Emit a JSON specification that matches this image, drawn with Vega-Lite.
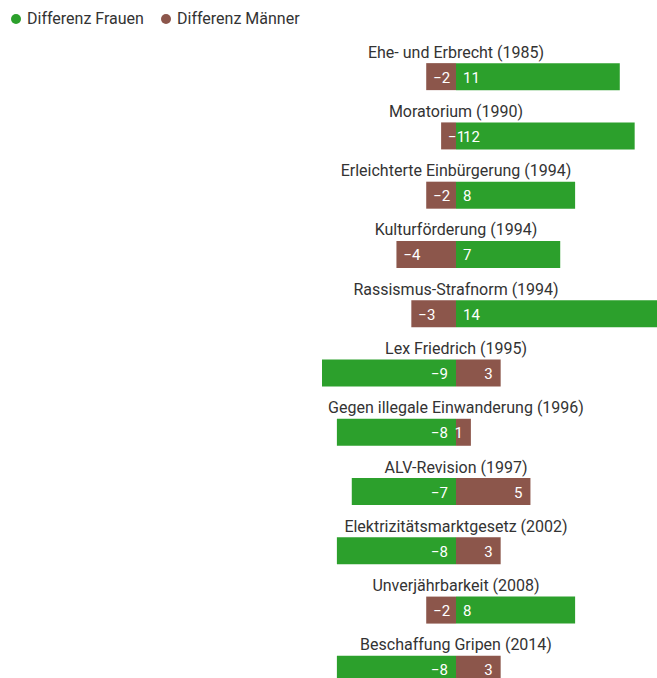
{
  "$schema": "https://vega.github.io/schema/vega-lite/v6.json",
  "width": 402,
  "height": 652,
  "autosize": "none",
  "padding": {"left": 255, "top": 47, "right": 0, "bottom": 0},
  "background": "white",
  "config": {
    "view": {"stroke": null},
    "font": "Roboto",
    "text": {"font": "Roboto"}
  },
  "data": {
    "values": [
      {"vote": "Ehe- und Erbrecht (1985)", "gender": "Differenz Frauen", "value": 11},
      {"vote": "Ehe- und Erbrecht (1985)", "gender": "Differenz Männer", "value": -2},
      {"vote": "Moratorium (1990)", "gender": "Differenz Frauen", "value": 12},
      {"vote": "Moratorium (1990)", "gender": "Differenz Männer", "value": -1},
      {"vote": "Erleichterte Einbürgerung (1994)", "gender": "Differenz Frauen", "value": 8},
      {"vote": "Erleichterte Einbürgerung (1994)", "gender": "Differenz Männer", "value": -2},
      {"vote": "Kulturförderung (1994)", "gender": "Differenz Frauen", "value": 7},
      {"vote": "Kulturförderung (1994)", "gender": "Differenz Männer", "value": -4},
      {"vote": "Rassismus-Strafnorm (1994)", "gender": "Differenz Frauen", "value": 14},
      {"vote": "Rassismus-Strafnorm (1994)", "gender": "Differenz Männer", "value": -3},
      {"vote": "Lex Friedrich (1995)", "gender": "Differenz Frauen", "value": -9},
      {"vote": "Lex Friedrich (1995)", "gender": "Differenz Männer", "value": 3},
      {"vote": "Gegen illegale Einwanderung (1996)", "gender": "Differenz Frauen", "value": -8},
      {"vote": "Gegen illegale Einwanderung (1996)", "gender": "Differenz Männer", "value": 1},
      {"vote": "ALV-Revision (1997)", "gender": "Differenz Frauen", "value": -7},
      {"vote": "ALV-Revision (1997)", "gender": "Differenz Männer", "value": 5},
      {"vote": "Elektrizitätsmarktgesetz (2002)", "gender": "Differenz Frauen", "value": -8},
      {"vote": "Elektrizitätsmarktgesetz (2002)", "gender": "Differenz Männer", "value": 3},
      {"vote": "Unverjährbarkeit (2008)", "gender": "Differenz Frauen", "value": 8},
      {"vote": "Unverjährbarkeit (2008)", "gender": "Differenz Männer", "value": -2},
      {"vote": "Beschaffung Gripen (2014)", "gender": "Differenz Frauen", "value": -8},
      {"vote": "Beschaffung Gripen (2014)", "gender": "Differenz Männer", "value": 3}
    ]
  },
  "encoding": {
    "y": {
      "field": "vote",
      "type": "nominal",
      "sort": null,
      "axis": null,
      "scale": {"paddingInner": 0, "paddingOuter": 0}
    }
  },
  "layer": [
    {
      "mark": {"type": "bar", "size": 27, "clip": true},
      "encoding": {
        "x": {
          "field": "value",
          "type": "quantitative",
          "stack": null,
          "axis": null,
          "scale": {"domain": [-13.5, 13.5], "nice": false, "zero": false}
        },
        "color": {
          "field": "gender",
          "type": "nominal",
          "scale": {
            "domain": ["Differenz Frauen", "Differenz Männer"],
            "range": ["#2ca02c", "#8c564b"]
          },
          "legend": {
            "title": null,
            "orient": "none",
            "direction": "horizontal",
            "legendX": -247,
            "legendY": -36,
            "symbolType": "circle",
            "symbolSize": 100,
            "symbolStrokeWidth": 0,
            "labelFont": "Roboto",
            "labelFontSize": 16,
            "labelColor": "#333333",
            "labelOffset": 3,
            "columnPadding": 14,
            "padding": 0
          }
        }
      }
    },
    {
      "transform": [{"filter": "datum.gender == 'Differenz Frauen'"}],
      "mark": {"type": "text", "align": "center", "baseline": "alphabetic", "dy": -19, "fontSize": 16, "color": "#333333"},
      "encoding": {
        "x": {"datum": 0, "type": "quantitative"},
        "text": {"field": "vote", "type": "nominal"}
      }
    },
    {
      "transform": [{"filter": "datum.gender == 'Differenz Frauen' && datum.value > 0"}],
      "mark": {"type": "text", "align": "left", "baseline": "middle", "dx": 7, "dy": 1, "fontSize": 15, "color": "white"},
      "encoding": {
        "x": {"datum": 0, "type": "quantitative"},
        "text": {"field": "value", "type": "quantitative", "format": "d"}
      }
    },
    {
      "transform": [{"filter": "datum.gender == 'Differenz Frauen' && datum.value < 0"}],
      "mark": {"type": "text", "align": "right", "baseline": "middle", "dx": -8, "dy": 1, "fontSize": 15, "color": "white"},
      "encoding": {
        "x": {"datum": 0, "type": "quantitative"},
        "text": {"field": "value", "type": "quantitative", "format": "d"}
      }
    },
    {
      "transform": [{"filter": "datum.gender == 'Differenz Männer' && datum.value < 0"}],
      "mark": {"type": "text", "align": "left", "baseline": "middle", "dx": 7, "dy": 1, "fontSize": 15, "color": "white"},
      "encoding": {
        "x": {"field": "value", "type": "quantitative"},
        "text": {"field": "value", "type": "quantitative", "format": "d"}
      }
    },
    {
      "transform": [{"filter": "datum.gender == 'Differenz Männer' && datum.value > 0"}],
      "mark": {"type": "text", "align": "right", "baseline": "middle", "dx": -8, "dy": 1, "fontSize": 15, "color": "white"},
      "encoding": {
        "x": {"field": "value", "type": "quantitative"},
        "text": {"field": "value", "type": "quantitative", "format": "d"}
      }
    }
  ]
}
